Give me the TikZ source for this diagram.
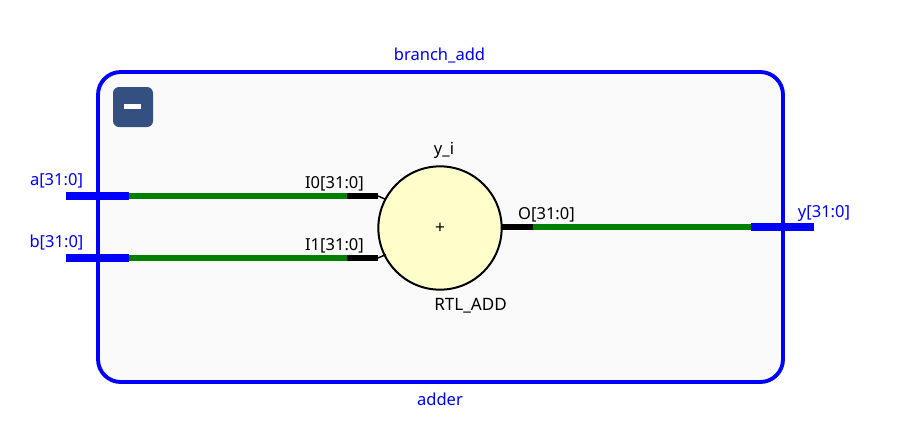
\documentclass[tikz,border=0pt]{standalone}
\usepackage{fontspec}
\setmainfont{Noto Sans}
\definecolor{portblue}{RGB}{0,0,255}
\definecolor{netgreen}{RGB}{0,128,0}
\definecolor{boxfill}{RGB}{250,250,250}
\definecolor{cellfill}{RGB}{255,255,204}
\definecolor{btnfill}{RGB}{52,80,128}
\tikzset{
  x=0.75pt,y=-0.75pt,
  lbl/.style={inner sep=0pt,font=\fontsize{12.4pt}{14pt}\selectfont,text=black},
  bluelbl/.style={lbl,text=portblue},
  portline/.style={line width=5.4pt,portblue},
  netline/.style={line width=4.3pt,netgreen},
  pinline/.style={line width=4.3pt,black},
  stub/.style={line width=1.1pt,black}
}
\begin{document}
\begin{tikzpicture}
\useasboundingbox (0,0) rectangle (899,437);
\fill[white] (0,0) rectangle (899,437);
\node[draw=portblue,fill=boxfill,line width=2.9pt,rounded corners=17pt,minimum width=513.75pt,minimum height=232.5pt,inner sep=0pt,anchor=center] (box) at (440.5,227) {};
\node[bluelbl] (boxtitle) at (439.5,55) {branch\_add};
\node[bluelbl] (boxname) at (440,399) {adder};
\node[fill=btnfill,rounded corners=4.5pt,minimum width=30pt,minimum height=30pt,inner sep=0pt] (btn) at (133,107) {};
\node[fill=white,minimum width=12.75pt,minimum height=4pt,inner sep=0pt] (minus) at (132.5,106.5) {};
\node[draw=black,fill=cellfill,circle,line width=1.5pt,minimum size=92.5pt,inner sep=0pt] (add) at (440,228) {};
\node[lbl,font=\fontsize{13pt}{14pt}\selectfont] (plus) at (440,228) {+};
\node[lbl] (yi) at (444,150) {y\_i};
\node[lbl,font=\fontsize{12.8pt}{14pt}\selectfont] (rtl) at (470.5,306) {RTL\_ADD};
% free ends
\coordinate (a0) at (66,196);
\coordinate (a1) at (129,196);
\coordinate (a2) at (347,196);
\coordinate (a3) at (378,196);
\coordinate (a4) at (386,199.5);
\coordinate (b0) at (66,258);
\coordinate (b1) at (129,258);
\coordinate (b2) at (347,258);
\coordinate (b3) at (378,258);
\coordinate (b4) at (386,254.5);
\coordinate (o1) at (502,227);
\coordinate (o2) at (533,227);
\coordinate (o3) at (751,227);
\coordinate (o4) at (814,227);
\draw[netline] (a1) -- (a2);
\draw[pinline] (a2) -- (a3);
\draw[stub] (a3) -- (a4);
\draw[portline] (a0) -- (a1);
\draw[netline] (b1) -- (b2);
\draw[pinline] (b2) -- (b3);
\draw[stub] (b3) -- (b4);
\draw[portline] (b0) -- (b1);
\draw[pinline] (o1) -- (o2);
\draw[netline] (o2) -- (o3);
\draw[portline] (o3) -- (o4);
\node[bluelbl] (alab) at (56.5,181) {a[31:0]};
\node[bluelbl] (blab) at (56.5,243) {b[31:0]};
\node[bluelbl] (ylab) at (824,213) {y[31:0]};
\node[lbl] (i0) at (334.5,184) {I0[31:0]};
\node[lbl] (i1) at (334.5,246) {I1[31:0]};
\node[lbl] (olab) at (546.5,215) {O[31:0]};
\end{tikzpicture}
\end{document}
